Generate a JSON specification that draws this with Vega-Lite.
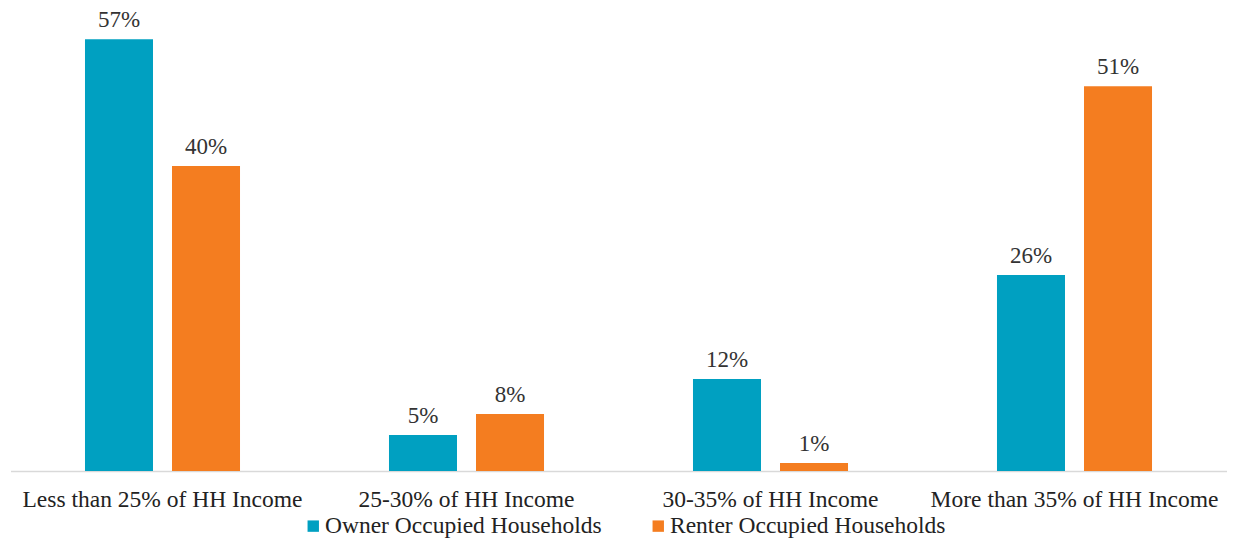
{
  "$schema": "https://vega.github.io/schema/vega-lite/v6.json",
  "width": 1216,
  "height": 454,
  "autosize": {"type": "none"},
  "padding": {"left": 10.5, "top": 17, "right": 6.5, "bottom": 73},
  "background": "white",
  "config": {
    "view": {"stroke": null},
    "font": "Liberation Serif",
    "text": {"font": "Liberation Serif"}
  },
  "data": {
    "values": [
      {"category": "Less than 25% of HH Income", "series": "Owner Occupied Households", "value": 0.5706},
      {"category": "Less than 25% of HH Income", "series": "Renter Occupied Households", "value": 0.403},
      {"category": "25-30% of HH Income", "series": "Owner Occupied Households", "value": 0.0476},
      {"category": "25-30% of HH Income", "series": "Renter Occupied Households", "value": 0.0753},
      {"category": "30-35% of HH Income", "series": "Owner Occupied Households", "value": 0.1215},
      {"category": "30-35% of HH Income", "series": "Renter Occupied Households", "value": 0.0106},
      {"category": "More than 35% of HH Income", "series": "Owner Occupied Households", "value": 0.259},
      {"category": "More than 35% of HH Income", "series": "Renter Occupied Households", "value": 0.5086}
    ]
  },
  "encoding": {
    "x": {
      "field": "category",
      "type": "nominal",
      "sort": null,
      "scale": {"paddingInner": 0, "paddingOuter": 0},
      "axis": {
        "title": null,
        "labelAngle": 0,
        "ticks": false,
        "domainColor": "#d9d9d9",
        "domainWidth": 1.5,
        "labelFontSize": 23.5,
        "labelColor": "#222222",
        "labelPadding": 16,
        "labelLimit": 0,
        "labelFont": "Liberation Serif"
      }
    },
    "xOffset": {
      "field": "series",
      "type": "nominal",
      "scale": {"paddingInner": 0.2184, "paddingOuter": 0.856}
    },
    "y": {
      "field": "value",
      "type": "quantitative",
      "scale": {"domain": [0, 0.6]},
      "axis": null
    }
  },
  "layer": [
    {
      "mark": {"type": "bar"},
      "encoding": {
        "color": {
          "field": "series",
          "type": "nominal",
          "scale": {"range": ["#00A0C1", "#F47D20"]},
          "legend": {
            "title": null,
            "orient": "none",
            "direction": "horizontal",
            "legendX": 291,
            "legendY": 497,
            "symbolType": "square",
            "symbolSize": 130,
            "symbolStrokeWidth": 0,
            "labelFontSize": 23.5,
            "labelColor": "#222222",
            "labelFont": "Liberation Serif",
            "labelOffset": 0,
            "labelLimit": 0,
            "columnPadding": 44
          }
        }
      }
    },
    {
      "mark": {"type": "text", "baseline": "bottom", "dy": -7, "fontSize": 23, "font": "Liberation Serif", "color": "#333333"},
      "encoding": {
        "text": {"field": "value", "type": "quantitative", "format": ".0%"}
      }
    }
  ]
}
